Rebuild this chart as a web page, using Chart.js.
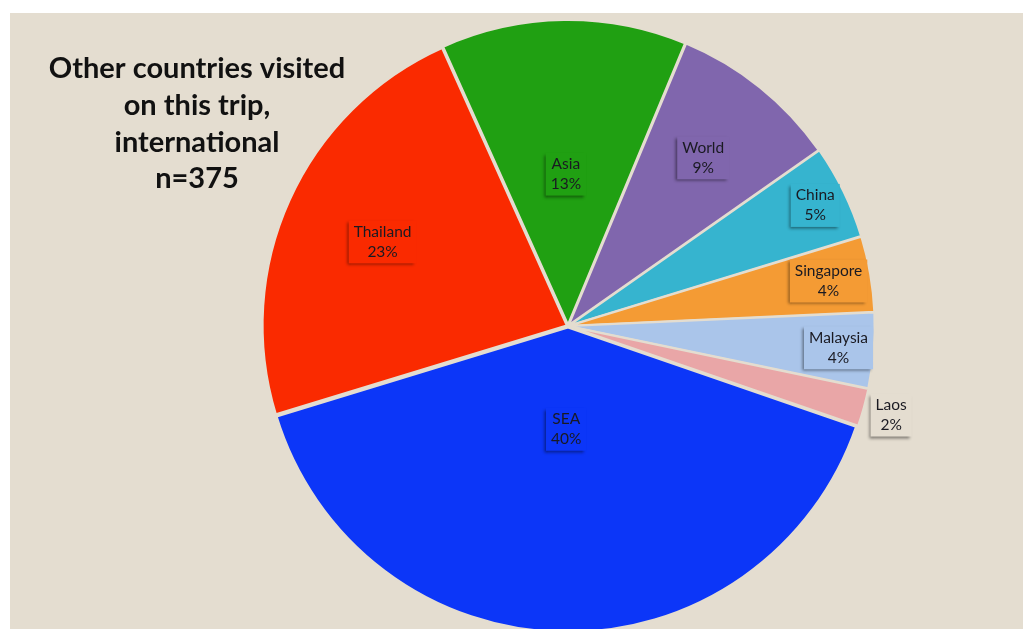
<!DOCTYPE html>
<html><head><meta charset="utf-8">
<script src="https://cdn.jsdelivr.net/npm/chart.js@4.4.0/dist/chart.umd.min.js"></script>
<style>
html,body{margin:0;padding:0;background:#fff;width:1026px;height:629px;overflow:hidden}
#bg{position:absolute;left:10px;top:13px;width:1013px;height:616px;background:#e4ddd0}
#wrap{position:absolute;left:0;top:0;width:1026px;height:640px}
</style></head><body>
<div id="bg"></div>
<div id="wrap"><canvas id="c" width="1026" height="640"></canvas></div>
<script>
const categories = ['SEA', 'Thailand', 'Asia', 'World', 'China', 'Singapore', 'Malaysia', 'Laos'];
const values = [40, 23, 13, 9, 5, 4, 4, 2];
const titleLines = ['Other countries visited', 'on this trip,', 'international', 'n=375'];
const sliceColors = ['#0c36f8', '#fa2a00', '#20a012', '#8066ad', '#36b4cf', '#f49b34', '#aac5ea', '#e9a6a7'];
const labelDist = [0.32, 0.65, 0.48, 0.69, 0.885, 0.85, 0.873, 1.083];
const BG = '#e4ddd0';

const titlePlugin = {
  id: 'titleBlock',
  afterDraw(chart) {
    const ctx = chart.ctx;
    ctx.save();
    ctx.font = 'bold 29px Lato, "Open Sans", sans-serif';
    ctx.fillStyle = '#111111';
    ctx.textAlign = 'center';
    ctx.textBaseline = 'alphabetic';
    const base = [78, 115, 152, 188];
    titleLines.forEach((t, i) => ctx.fillText(t, 197, base[i]));
    ctx.restore();
  }
};

const labelPlugin = {
  id: 'sliceLabels',
  afterDatasetsDraw(chart) {
    const ctx = chart.ctx;
    const meta = chart.getDatasetMeta(0);
    ctx.save();
    ctx.font = '15.5px Lato, "Open Sans", sans-serif';
    meta.data.forEach((arc, i) => {
      const p = arc.getProps(['x', 'y', 'startAngle', 'endAngle', 'outerRadius'], true);
      const mid = (p.startAngle + p.endAngle) / 2;
      const off = arc.options.offset || 0;
      const d = labelDist[i] * p.outerRadius + off;
      const cx = p.x + Math.cos(mid) * d;
      const cy = p.y + Math.sin(mid) * d;
      const l1 = categories[i];
      const l2 = values[i] + '%';
      const w = Math.max(ctx.measureText(l1).width, ctx.measureText(l2).width) + 10;
      const h = 43;
      ctx.save();
      ctx.shadowColor = 'rgba(0,0,0,0.45)';
      ctx.shadowOffsetX = -2;
      ctx.shadowOffsetY = 2;
      ctx.shadowBlur = 3;
      ctx.fillStyle = labelDist[i] > 1 ? BG : sliceColors[i];
      ctx.fillRect(cx - w / 2, cy - h / 2, w, h);
      ctx.restore();
      ctx.fillStyle = '#1a1a22';
      ctx.textAlign = 'center';
      ctx.textBaseline = 'middle';
      ctx.fillText(l1, cx, cy - 10);
      ctx.fillText(l2, cx, cy + 10);
    });
    ctx.restore();
  }
};

new Chart(document.getElementById('c'), {
  type: 'pie',
  data: {
    labels: categories,
    datasets: [{
      data: values,
      backgroundColor: sliceColors,
      borderColor: BG,
      borderWidth: 2,
      offset: 6
    }]
  },
  options: {
    responsive: false,
    animation: false,
    rotation: 109,
    layout: { padding: { top: 18, bottom: 6, left: 260, right: 150 } },
    plugins: { legend: { display: false }, tooltip: { enabled: false }, title: { display: false } }
  },
  plugins: [labelPlugin, titlePlugin]
});
</script>
</body></html>
